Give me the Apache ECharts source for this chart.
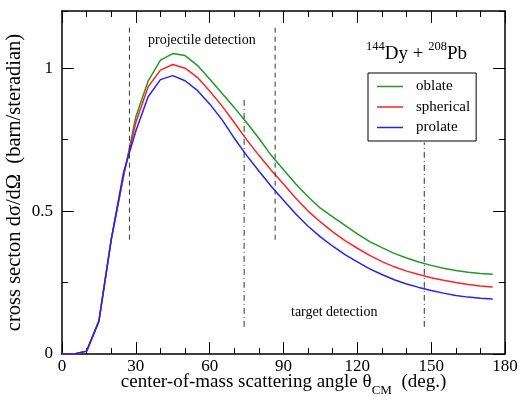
<!DOCTYPE html>
<html lang="en">
<head>
    <meta charset="UTF-8">
    <title>144Dy + 208Pb cross section</title>
    <script src="https://cdn.jsdelivr.net/npm/echarts@6.0.0/dist/echarts.min.js"></script>
    <style>
        body { margin: 0; background: #fff; }
    </style>
</head>
<body>
    <div id="main" style="width: 520px;height:401px;"></div>

    <script type="text/javascript">
        // scattering angle (deg.)
        const angles = [0, 5, 10, 15, 20, 25, 30, 35, 40, 45, 50, 55, 60, 65, 70, 75, 80, 85,
            90, 95, 100, 105, 110, 115, 120, 125, 130, 135, 140, 145, 150, 155, 160, 165, 170, 175];
        const oblate = [0, 0, 0.01, 0.115, 0.40, 0.62, 0.83, 0.955, 1.028, 1.051, 1.044, 1.01,
            0.962, 0.912, 0.862, 0.81, 0.755, 0.695, 0.645, 0.595, 0.55, 0.51, 0.48, 0.45, 0.42,
            0.393, 0.372, 0.352, 0.336, 0.322, 0.31, 0.30, 0.292, 0.286, 0.282, 0.279];
        const spherical = [0, 0, 0.01, 0.115, 0.40, 0.625, 0.81, 0.935, 0.993, 1.013, 1.0, 0.968,
            0.92, 0.868, 0.81, 0.75, 0.695, 0.643, 0.595, 0.545, 0.50, 0.462, 0.427, 0.397, 0.37,
            0.345, 0.323, 0.305, 0.29, 0.278, 0.267, 0.258, 0.25, 0.243, 0.238, 0.234];
        const prolate = [0, 0, 0.01, 0.115, 0.40, 0.635, 0.78, 0.90, 0.96, 0.974, 0.956, 0.922,
            0.875, 0.82, 0.755, 0.695, 0.64, 0.587, 0.538, 0.49, 0.447, 0.41, 0.377, 0.348, 0.322,
            0.298, 0.278, 0.26, 0.245, 0.233, 0.222, 0.213, 0.205, 0.199, 0.195, 0.192];

        // detection window limits: [angle, from, to]
        const projectileLimits = [[27.4, 0.40, 1.15], [86.6, 0.40, 1.15]];
        const targetLimits = [[74.0, 0.095, 0.898], [147.2, 0.095, 0.74]];

        const xTicks = [0, 30, 60, 90, 120, 150, 180];
        const yTicks = [0, 0.5, 1];

        const font = 'Liberation Serif';
        let myChart = echarts.init(document.getElementById('main'));

        const pairs = ys => angles.map((a, i) => [a, ys[i]]);
        const curve = (name, ys, color) => ({
            name: name, type: 'line', data: pairs(ys), symbol: 'none',
            xAxisIndex: 0, yAxisIndex: 0,
            lineStyle: { color: color, width: 1.5 }, itemStyle: { color: color }
        });
        const limit = (l, dash) => ({
            type: 'line', silent: true, symbol: 'none', xAxisIndex: 0, yAxisIndex: 0,
            data: [[l[0], l[1]], [l[0], l[2]]],
            lineStyle: { color: '#333', width: 1, type: dash }
        });

        // bottom/top x axes, left/right y axes, with inward ticks like the original plot
        const xBase = {
            type: 'value', min: 0, max: 180, interval: 30,
            axisLine: { show: true, onZero: false, lineStyle: { color: '#000', width: 1.5 } },
            axisTick: { inside: true, length: 12, lineStyle: { color: '#000' } },
            minorTick: { show: true, splitNumber: 3, length: 6, lineStyle: { color: '#000' } },
            splitLine: { show: false }
        };
        const yMinor = {
            type: 'value', min: 0, max: 1.2, interval: 0.25,
            axisLine: { show: true, onZero: false, lineStyle: { color: '#000', width: 1.5 } },
            axisTick: { inside: true, length: 6, lineStyle: { color: '#000' } },
            axisLabel: { show: false },
            splitLine: { show: false }
        };
        const yMajor = {
            type: 'value', min: 0, max: 1.2,
            axisLine: { show: false, onZero: false },
            axisTick: { inside: true, length: 12, customValues: yTicks, lineStyle: { color: '#000' } },
            axisLabel: { show: false },
            splitLine: { show: false }
        };

        let options = {
            animation: false,
            grid: { left: 62, right: 15, top: 11, bottom: 47, outerBoundsMode: 'none', containLabel: false },
            legend: {
                data: ['oblate', 'spherical', 'prolate'],
                orient: 'vertical', left: 368, top: 73,
                borderColor: '#000', borderWidth: 1, borderRadius: 0,
                padding: [6, 6, 6, 9], itemGap: 5.5,
                icon: 'rect', itemWidth: 26, itemHeight: 1.5,
                textStyle: { fontFamily: font, fontSize: 15, lineHeight: 14, color: '#000', padding: [0, 0, 0, 8] }
            },
            xAxis: [
                Object.assign({}, xBase, {
                    position: 'bottom',
                    name: 'center-of-mass scattering angle θ{sub|CM}  (deg.)',
                    nameLocation: 'middle', nameGap: 13, nameMoveOverlap: false,
                    nameTextStyle: {
                        fontFamily: font, fontSize: 19, color: '#000', lineHeight: 30,
                        rich: { sub: { fontFamily: font, fontSize: 13, color: '#000', verticalAlign: 'bottom' } }
                    },
                    axisLabel: {
                        fontFamily: font, fontSize: 17, color: '#000', margin: 4,
                        customValues: xTicks
                    }
                }),
                Object.assign({}, xBase, { position: 'top', axisLabel: { show: false } })
            ],
            yAxis: [
                Object.assign({}, yMinor, {
                    position: 'left',
                    name: 'cross secton dσ/dΩ  (barn/steradian)',
                    nameLocation: 'middle', nameGap: 37, nameMoveOverlap: false,
                    nameTextStyle: { fontFamily: font, fontSize: 20.5, color: '#000' }
                }),
                Object.assign({}, yMajor, {
                    position: 'left',
                    axisLabel: {
                        show: true, fontFamily: font, fontSize: 17, color: '#000', margin: 9,
                        customValues: yTicks
                    }
                }),
                Object.assign({}, yMinor, { position: 'right' }),
                Object.assign({}, yMajor, { position: 'right' })
            ],
            graphic: [
                {
                    type: 'text', left: 148, top: 33,
                    style: { text: 'projectile detection', fontFamily: font, fontSize: 14, fill: '#000' }
                },
                {
                    type: 'text', left: 291, top: 305,
                    style: { text: 'target detection', fontFamily: font, fontSize: 14, fill: '#000' }
                },
                {
                    type: 'text', left: 366, top: 40,
                    style: {
                        text: '{sup|144}Dy + {sup|208}Pb',
                        fontFamily: font, fontSize: 19, fill: '#000', lineHeight: 28,
                        rich: { sup: { fontFamily: font, fontSize: 12.5, lineHeight: 28, verticalAlign: 'top', fill: '#000' } }
                    }
                }
            ],
            series: [
                curve('oblate', oblate, '#229922'),
                curve('spherical', spherical, '#ff2222'),
                curve('prolate', prolate, '#2222ff'),
                ...projectileLimits.map(l => limit(l, [5, 4])),
                ...targetLimits.map(l => limit(l, [6, 3, 1, 3]))
            ]
        };

        myChart.setOption(options);
    </script>
</body>
</html>
